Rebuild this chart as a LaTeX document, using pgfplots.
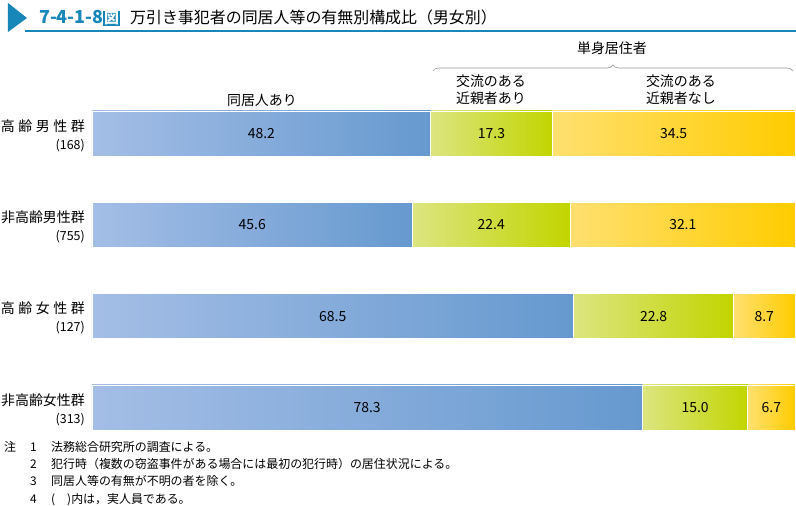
\documentclass[border=0pt]{standalone}
\usepackage{pgfplots}
\pgfplotsset{compat=1.18}
\usepackage{fontspec}
\setmainfont{Noto Sans CJK JP}
\usetikzlibrary{decorations.pathreplacing}
\definecolor{titleblue}{HTML}{1786B9}
\definecolor{bL}{HTML}{A4BEE6}
\definecolor{bR}{HTML}{6699CF}
\definecolor{gL}{HTML}{DCE580}
\definecolor{gR}{HTML}{C2D500}
\definecolor{yL}{HTML}{FFE070}
\definecolor{yR}{HTML}{FFCC00}
\newcommand{\fsz}[1]{\fontsize{#1}{#1}\selectfont}
\pgfplotsset{rowaxis/.style={
  anchor=west, scale only axis, width=703bp, height=91.33bp,
  xmin=0, xmax=100, ymin=-0.5, ymax=0.5,
  axis lines=none, xbar stacked, bar width=45bp, clip=false}}
% #1 = y centre (bp), #2 #3 #4 = shares
\newcommand{\barrow}[4]{%
\begin{axis}[rowaxis, at={(92bp,#1bp)}]
\addplot[draw=white, line width=0.8bp, left color=bL, right color=bR] coordinates {(#2,0)};
\addplot[draw=white, line width=0.8bp, left color=gL, right color=gR] coordinates {(#3,0)};
\addplot[draw=white, line width=0.8bp, left color=yL, right color=yR] coordinates {(#4,0)};
\end{axis}}
\begin{document}
\begin{tikzpicture}
\begin{scope}[x=1bp,y=1bp]
\path[use as bounding box] (0,0) rectangle (796,506);
% title
\fill[titleblue] (8,503) -- (27,488) -- (8,474) -- cycle;
\draw[titleblue, line width=1.3bp] (25,475) -- (796,475);
\node[anchor=base west, inner sep=0pt, text=titleblue, font=\bfseries\fsz{18}] at (39,482)
  {7-4-1-8{\fboxsep=0.6bp\colorbox{titleblue}{\textcolor{white}{\fsz{15}図}}}};
\node[anchor=base west, inner sep=0pt, font=\fsz{16}] at (130,482)
  {万引き事犯者の同居人等の有無別構成比（男女別）};
% headers
\node[font=\fsz{14}] at (262,406) {同居人あり};
\node[font=\fsz{14}, align=center] at (491,416) {交流のある\\[3bp]近親者あり};
\node[font=\fsz{14}, align=center] at (681,416) {交流のある\\[3bp]近親者なし};
\node[font=\fsz{14}] at (612,458) {単身居住者};
\draw[decorate, decoration={brace, amplitude=6bp, aspect=0.5}, gray!80, line width=0.6bp] (433,435) -- (793,435);
% notes
\begin{scope}[every node/.style={anchor=base west, inner sep=0pt, font=\fsz{12}}]
\node at (4,54) {注};
\node at (30,54) {1}; \node at (51,54) {法務総合研究所の調査による。};
\node at (30,37) {2}; \node at (51,37) {犯行時（複数の窃盗事件がある場合には最初の犯行時）の居住状況による。};
\node at (30,20) {3}; \node at (51,20) {同居人等の有無が不明の者を除く。};
\node at (30,2) {4}; \node at (51,2) {(\hspace{12bp})内は，実人員である。};
\end{scope}
\end{scope}
\barrow{372.5}{48.2}{17.3}{34.5}
\barrow{281.2}{45.6}{22.4}{32.1}
\barrow{189.8}{68.5}{22.8}{8.7}
\barrow{98.5}{78.3}{15.0}{6.7}
\begin{scope}[x=1bp,y=1bp]
% values (x = 92 + 7.03 v)
\begin{scope}[every node/.style={font=\fsz{14}}]
\node at (261.4,372.5) {48.2};
\node at (491.6,372.5) {17.3};
\node at (673.7,372.5) {34.5};
\node at (252.3,281.2) {45.6};
\node at (491.3,281.2) {22.4};
\node at (682.9,281.2) {32.1};
\node at (332.8,189.8) {68.5};
\node at (653.7,189.8) {22.8};
\node at (764.4,189.8) {8.7};
\node at (367.2,98.5) {78.3};
\node at (695.2,98.5) {15.0};
\node at (771.5,98.5) {6.7};
\end{scope}
% group labels
\begin{scope}[every node/.style={anchor=east, align=right, font=\fsz{14}, inner sep=0pt}]
\node at (85,370.5) {\makebox[84bp][s]{高\hfill 齢\hfill 男\hfill 性\hfill 群}\\[4bp]{\fsz{12.5}(168)\hspace{2bp}}};
\node at (85,279.2) {非高齢男性群\\[4bp]{\fsz{12.5}(755)\hspace{2bp}}};
\node at (85,187.8) {\makebox[84bp][s]{高\hfill 齢\hfill 女\hfill 性\hfill 群}\\[4bp]{\fsz{12.5}(127)\hspace{2bp}}};
\node at (85,96.5) {非高齢女性群\\[4bp]{\fsz{12.5}(313)\hspace{2bp}}};
\end{scope}
\end{scope}
\end{tikzpicture}
\end{document}
